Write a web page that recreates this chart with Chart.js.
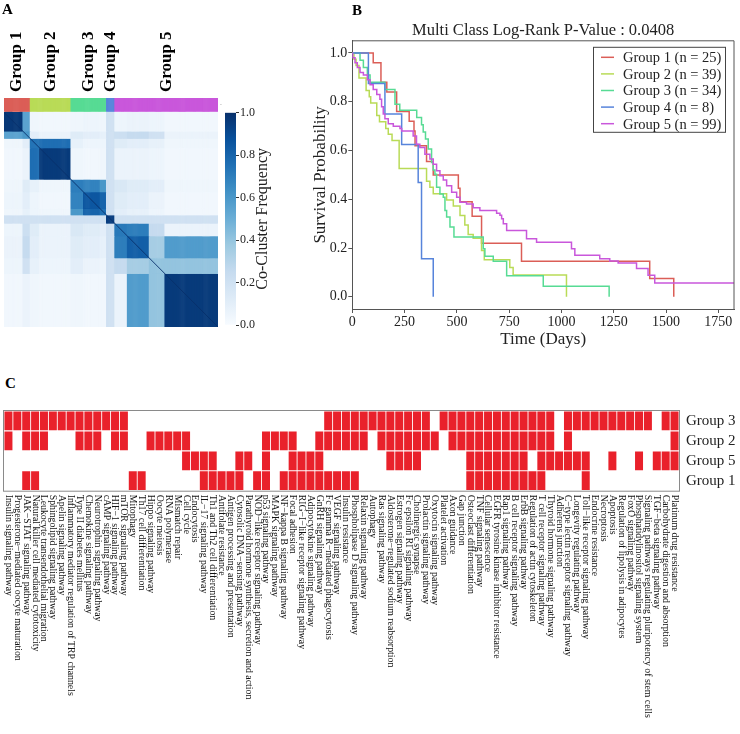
<!DOCTYPE html>
<html><head><meta charset="utf-8">
<script src="https://cdn.jsdelivr.net/npm/chart.js@4.4.1/dist/chart.umd.min.js"></script>
<style>
html,body{margin:0;padding:0;background:#fff;width:740px;height:734px;overflow:hidden;}
.wrap{position:absolute;}
.wrap canvas{display:block;}
.lbl{position:absolute;font-family:"Liberation Serif","Times New Roman",serif;font-weight:bold;font-size:15px;color:#000;line-height:15px;}
</style></head><body>
<div class="wrap" style="left:0;top:0;"><canvas id="cA" width="222" height="335"></canvas></div>
<div class="wrap" style="left:222px;top:100px;"><canvas id="cBar" width="70" height="235"></canvas></div>
<div class="wrap" style="left:300px;top:14px;"><canvas id="cB" width="440" height="345"></canvas></div>
<div class="wrap" style="left:0;top:395px;"><canvas id="cC" width="740" height="339"></canvas></div>
<div class="lbl" style="left:2px;top:2px">A</div>
<div class="lbl" style="left:352px;top:3px">B</div>
<div class="lbl" style="left:5px;top:376px">C</div>
<script>
// ---------------- DATA ----------------
const groupNames = ['Group 1','Group 2','Group 3','Group 4','Group 5'];
const groupSizes = [25, 39, 34, 8, 99];
const groupColors = ['#db5e57','#b9db57','#57db94','#5784db','#c957db'];

// Panel A: co-clustering matrix, read block-wise (sub-cluster segments in sample order)
const segSizes = [18, 7, 9, 30, 12, 16, 6, 8, 12, 21, 15, 51];
const coCluster = [
  [0.97,0.55,0.04,0.03,0.04,0.05,0.04,0.20,0.05,0.06,0.05,0.03],
  [0.55,0.60,0.10,0.06,0.12,0.10,0.08,0.20,0.22,0.25,0.20,0.06],
  [0.04,0.10,0.74,0.76,0.08,0.05,0.05,0.20,0.12,0.10,0.08,0.04],
  [0.03,0.06,0.76,0.96,0.04,0.03,0.04,0.20,0.06,0.06,0.05,0.03],
  [0.04,0.12,0.08,0.04,0.70,0.68,0.60,0.20,0.15,0.12,0.10,0.04],
  [0.05,0.10,0.05,0.03,0.68,0.85,0.80,0.20,0.12,0.10,0.06,0.03],
  [0.04,0.08,0.05,0.04,0.60,0.80,0.75,0.20,0.10,0.08,0.05,0.03],
  [0.20,0.20,0.20,0.20,0.20,0.20,0.20,0.95,0.20,0.20,0.20,0.20],
  [0.05,0.22,0.12,0.06,0.15,0.12,0.10,0.20,0.72,0.70,0.25,0.06],
  [0.06,0.25,0.10,0.06,0.12,0.10,0.08,0.20,0.70,0.82,0.35,0.58],
  [0.05,0.20,0.08,0.05,0.10,0.06,0.05,0.20,0.25,0.35,0.40,0.40],
  [0.03,0.06,0.04,0.03,0.04,0.03,0.03,0.20,0.06,0.58,0.40,0.96]
];
const cbTicks = [0, 0.2, 0.4, 0.6, 0.8, 1.0];

// Panel B: Kaplan-Meier curves (days, survival)
const g1T = [0,100,137,165,212,272,295,300,355,387,507,515,573,618,809,1422,1537];
const g1S = [1,0.96,0.88,0.84,0.76,0.72,0.68,0.62,0.555,0.50,0.445,0.39,0.33,0.22,0.146,0.075,0];
const g2T = [0,8,18,32,66,81,88,117,130,160,172,190,224,355,371,387,451,483,515,538,554,578,618,631,753,769,1024];
const g2S = [1,0.974,0.949,0.897,0.846,0.821,0.795,0.744,0.718,0.69,0.667,0.641,0.526,0.474,0.449,0.423,0.397,0.372,0.333,0.295,0.256,0.24,0.19,0.152,0.12,0.089,0];
const g3T = [0,37,53,72,85,156,204,227,308,331,339,350,363,379,387,395,403,419,435,443,451,467,486,626,634,674,738,913,1228];
const g3S = [1,0.97,0.94,0.91,0.88,0.85,0.79,0.765,0.735,0.706,0.676,0.647,0.606,0.551,0.52,0.503,0.449,0.422,0.408,0.354,0.327,0.286,0.245,0.197,0.166,0.146,0.086,0.043,0];
const g4T = [0,77,156,236,315,331,387];
const g4S = [1,0.875,0.75,0.625,0.469,0.156,0];
const g5T = [0,2,13,24,37,53,72,85,100,117,132,140,148,156,172,196,228,236,291,307,323,347,371,387,403,419,435,451,475,499,515,546,578,610,690,706,714,722,738,833,881,1048,1064,1183,1231,1271,1359,1414,1446,1825];
const g5S = [1,0.98,0.96,0.94,0.92,0.91,0.89,0.87,0.85,0.83,0.81,0.78,0.75,0.73,0.71,0.70,0.69,0.68,0.66,0.626,0.612,0.585,0.565,0.544,0.517,0.497,0.479,0.456,0.429,0.408,0.388,0.381,0.365,0.354,0.343,0.334,0.320,0.300,0.272,0.238,0.224,0.197,0.170,0.156,0.147,0.139,0.116,0.088,0.057,0.057];
const kmXTicks = [0,250,500,750,1000,1250,1500,1750];
const kmYTicks = [0,0.2,0.4,0.6,0.8,1.0];
const kmTitle = 'Multi Class Log-Rank P-Value : 0.0408';

// Panel C: pathway enrichment (1 = enriched)
const pathways = [
 'Insulin signaling pathway','Progesterone\u2212mediated oocyte maturation','JAK\u2212STAT signaling pathway',
 'Natural killer cell mediated cytotoxicity','Leukocyte transendothelial migration','Sphingolipid signaling pathway',
 'Apelin signaling pathway','Inflammatory mediator regulation of TRP channels','Type II diabetes mellitus',
 'Chemokine signaling pathway','Neurotrophin signaling pathway','cAMP signaling pathway','HIF\u22121 signaling pathway',
 'mTOR signaling pathway','Mitophagy','Th17 cell differentiation','Hippo signaling pathway','Oocyte meiosis',
 'RNA polymerase','Mismatch repair','Cell cycle','Endocytosis','IL\u221217 signaling pathway',
 'Th1 and Th2 cell differentiation','Antifolate resistance','Antigen processing and presentation',
 'Cytosolic DNA\u2212sensing pathway','Parathyroid hormone synthesis, secretion and action',
 'NOD\u2212like receptor signaling pathway','p53 signaling pathway','MAPK signaling pathway',
 'NF\u2212kappa B signaling pathway','Focal adhesion','RIG\u2212I\u2212like receptor signaling pathway',
 'Adipocytokine signaling pathway','GnRH signaling pathway','Fc gamma R\u2212mediated phagocytosis',
 'VEGF signaling pathway','Insulin resistance','Phospholipase D signaling pathway','Relaxin signaling pathway',
 'Autophagy','Ras signaling pathway','Aldosterone\u2212regulated sodium reabsorption','Estrogen signaling pathway',
 'Fc epsilon RI signaling pathway','Cholinergic synapse','Prolactin signaling pathway','Oxytocin signaling pathway',
 'Platelet activation','Axon guidance','Gap junction','Osteoclast differentiation','TNF signaling pathway',
 'Cellular senescence','EGFR tyrosine kinase inhibitor resistance','Rap1 signaling pathway',
 'B cell receptor signaling pathway','ErbB signaling pathway','Regulation of actin cytoskeleton',
 'T cell receptor signaling pathway','Thyroid hormone signaling pathway','Adherens junction',
 'C\u2212type lectin receptor signaling pathway','Longevity regulating pathway','Toll\u2212like receptor signaling pathway',
 'Endocrine resistance','Necroptosis','Apoptosis','Regulation of lipolysis in adipocytes','FoxO signaling pathway',
 'Phosphatidylinositol signaling system','Signaling pathways regulating pluripotency of stem cells',
 'TGF\u2212beta signaling pathway','Carbohydrate digestion and absorption','Platinum drug resistance'
];
const rowNames = ['Group 3','Group 2','Group 5','Group 1'];
const enrichG3 = [1,1,1,1,1,1,1,1,1,1, 1,1,1,1,0,0,0,0,0,0, 0,0,0,0,0,0,0,0,0,0, 0,0,0,0,0,0,1,1,1,1, 1,1,1,1,1,1,1,1,0,1, 1,1,1,1,1,1,1,1,1,1, 1,1,0,1,1,1,1,1,1,1, 1,1,1,0,1,1];
const enrichG2 = [1,0,1,1,1,0,0,0,1,1, 1,0,1,1,0,0,1,1,1,1, 1,0,0,0,0,0,0,0,0,1, 1,1,1,0,0,1,1,1,1,1, 1,0,1,1,1,1,1,1,1,0, 1,1,1,1,1,1,1,1,1,1, 1,1,0,1,0,0,0,0,0,0, 0,0,0,0,0,1];
const enrichG5 = [0,0,0,0,0,0,0,0,0,0, 0,0,0,0,0,0,0,0,0,0, 1,1,1,1,0,0,1,1,0,1, 0,0,1,1,1,1,0,0,0,0, 0,0,0,1,1,1,1,0,0,0, 0,0,1,1,1,1,1,1,1,0, 1,1,1,1,1,1,0,0,1,0, 0,1,0,1,1,1];
const enrichG1 = [0,0,1,1,0,0,0,0,0,0, 0,0,0,0,1,1,0,0,0,0, 0,0,1,1,1,1,1,0,1,1, 0,1,1,1,1,1,1,1,1,1, 0,0,0,0,0,0,0,0,0,0, 0,0,1,1,1,1,1,1,1,1, 1,0,0,0,0,1,0,0,0,0, 0,0,0,0,0,0];

// ---------------- STYLE / HELPERS ----------------
const SERIF = "'Liberation Serif','Times New Roman',serif";
Chart.defaults.font.family = SERIF;
Chart.defaults.color = '#222';
const bluesStops = [[0,'#f7fbff'],[0.125,'#deebf7'],[0.25,'#c6dbef'],[0.375,'#9ecae1'],[0.5,'#6baed6'],[0.625,'#4292c6'],[0.75,'#2171b5'],[0.875,'#08519c'],[1,'#08306b']];
function hex2rgb(h){return [parseInt(h.substr(1,2),16),parseInt(h.substr(3,2),16),parseInt(h.substr(5,2),16)];}
function blues(v){
  v = Math.max(0, Math.min(1, v));
  for (let i=1;i<bluesStops.length;i++){
    if (v <= bluesStops[i][0]){
      const [a,ca]=bluesStops[i-1],[b,cb]=bluesStops[i];
      const t=(v-a)/(b-a), A=hex2rgb(ca), B=hex2rgb(cb);
      return 'rgb('+A.map((x,j)=>Math.round(x+(B[j]-x)*t)).join(',')+')';
    }
  }
  return bluesStops[bluesStops.length-1][1];
}

// ---------------- PANEL A ----------------
const segStart=[]; let acc=0; segSizes.forEach(s=>{segStart.push(acc); acc+=s;});
const N = acc;
const segOf=[]; segSizes.forEach((s,k)=>{for(let i=0;i<s;i++) segOf.push(k);});
const grpOf=[]; groupSizes.forEach((s,k)=>{for(let i=0;i<s;i++) grpOf.push(k);});
const heatSets = segSizes.map((s,r)=>({
  type:'bar',
  data: segOf.map((k,c)=>({x:c+0.5, y:[segStart[r], segStart[r]+s]})),
  backgroundColor: segOf.map(k=>blues(coCluster[r][k])),
  borderWidth:0, barPercentage:1, categoryPercentage:1, grouped:false, order:2
}));
heatSets.push({
  type:'bar',
  data: grpOf.map((g,c)=>({x:c+0.5, y:[-13.6,-0.7]})),
  backgroundColor: grpOf.map(g=>groupColors[g]),
  borderWidth:0, barPercentage:1, categoryPercentage:1, grouped:false, order:2
});
heatSets.push({
  type:'line', data:[{x:0,y:0},{x:N,y:N}], borderColor:'#08306b', borderWidth:0.9, pointRadius:0, order:1
});
const groupLabelPlugin = {
  id:'groupLabels',
  afterDraw(chart){
    const ctx=chart.ctx, xs=chart.scales.x, ca=chart.chartArea;
    ctx.save();
    ctx.fillStyle='#000';
    ctx.font='bold 17px '+SERIF;
    ctx.textAlign='left'; ctx.textBaseline='middle';
    let start=0;
    groupSizes.forEach((s,g)=>{
      const x=xs.getPixelForValue(start+s/2);
      ctx.save(); ctx.translate(x, ca.top-6); ctx.rotate(-Math.PI/2); ctx.fillText(groupNames[g],0,0); ctx.restore();
      start+=s;
    });
    ctx.font='5px "DejaVu Sans",sans-serif'; ctx.fillStyle='#333';
    ctx.fillText('- Cluster', ca.right+2, ca.top+7);
    ctx.restore();
  }
};
new Chart(document.getElementById('cA'), {
  type:'bar',
  data:{datasets:heatSets},
  options:{
    responsive:false, animation:false, events:[],
    layout:{padding:{left:4,top:98,right:4,bottom:8}},
    plugins:{legend:{display:false},tooltip:{enabled:false}},
    scales:{
      x:{type:'linear',min:0,max:N,offset:false,display:false},
      y:{type:'linear',min:-13.6,max:N,reverse:true,display:false}
    }
  },
  plugins:[groupLabelPlugin]
});

// colorbar
const cbLabelPlugin = {
  id:'cbLabel',
  afterDraw(chart){
    const ctx=chart.ctx, ca=chart.chartArea;
    ctx.save(); ctx.fillStyle='#222'; ctx.font='16px '+SERIF;
    ctx.textAlign='center'; ctx.textBaseline='middle';
    ctx.translate(41,(ca.top+ca.bottom)/2); ctx.rotate(-Math.PI/2);
    ctx.fillText('Co-Cluster Frequency',0,0); ctx.restore();
  }
};
new Chart(document.getElementById('cBar'), {
  type:'bar',
  data:{labels:[''], datasets:[{
    data:[[0,1]], borderWidth:0, barPercentage:1, categoryPercentage:1,
    backgroundColor:(c)=>{
      const ca=c.chart.chartArea; if(!ca) return '#6baed6';
      const g=c.chart.ctx.createLinearGradient(0,ca.bottom,0,ca.top);
      bluesStops.forEach(s=>g.addColorStop(s[0],s[1])); return g;
    }
  }]},
  options:{
    responsive:false, animation:false, events:[],
    layout:{padding:{left:3,top:12.7,bottom:10,right:0}},
    plugins:{legend:{display:false},tooltip:{enabled:false}},
    scales:{
      x:{display:false},
      y:{position:'right',min:0,max:1,
         afterBuildTicks(s){s.ticks=cbTicks.map(v=>({value:v}));},
         ticks:{callback:v=>Number(v).toFixed(1),font:{size:12},color:'#222',padding:1},
         grid:{drawOnChartArea:false,drawTicks:true,tickLength:3,color:'#333'},
         border:{display:false},
         afterFit(s){s.width=56;}}
    }
  },
  plugins:[cbLabelPlugin]
});

// ---------------- PANEL B ----------------
const kmT=[g1T,g2T,g3T,g4T,g5T], kmS=[g1S,g2S,g3S,g4S,g5S];
const kmSets = kmT.map((T,i)=>({
  label: groupNames[i]+' (n = '+groupSizes[i]+')',
  data: T.map((t,j)=>({x:t,y:kmS[i][j]})),
  borderColor: groupColors[i], backgroundColor: groupColors[i],
  borderWidth:1.5, pointRadius:0, stepped:'before', fill:false, order:4-i
}));
const kmFrame = {
  id:'kmFrame',
  afterDraw(chart){
    const ctx=chart.ctx, ca=chart.chartArea;
    ctx.save(); ctx.strokeStyle='#555'; ctx.lineWidth=1;
    ctx.beginPath(); ctx.moveTo(ca.left,ca.top); ctx.lineTo(ca.right,ca.top); ctx.lineTo(ca.right,ca.bottom); ctx.stroke();
    // legend inside
    const w=132, h=85, right=ca.right-9, top=ca.top+6, left=right-w;
    ctx.fillStyle='#fff'; ctx.fillRect(left,top,w,h);
    ctx.strokeStyle='#444'; ctx.strokeRect(left+0.5,top+0.5,w,h);
    ctx.font='14.5px '+SERIF; ctx.textBaseline='middle'; ctx.textAlign='left';
    chart.data.datasets.forEach((d,i)=>{
      const y=top+10.5+i*16.6;
      ctx.strokeStyle=d.borderColor; ctx.lineWidth=1.5;
      ctx.beginPath(); ctx.moveTo(left+8,y); ctx.lineTo(left+21,y); ctx.stroke();
      ctx.fillStyle='#222'; ctx.fillText(d.label,left+30,y+1);
    });
    ctx.restore();
  }
};
new Chart(document.getElementById('cB'), {
  type:'line',
  data:{datasets:kmSets},
  options:{
    responsive:false, animation:false, events:[],
    layout:{padding:{left:0,right:6,top:0,bottom:0}},
    plugins:{
      legend:{display:false}, tooltip:{enabled:false},
      title:{display:true,text:kmTitle,fullSize:false,color:'#222',font:{size:16.5,weight:'normal',lineHeight:1.2},padding:{top:7,bottom:0}}
    },
    scales:{
      x:{type:'linear',min:0,max:1825,
         afterBuildTicks(s){s.ticks=kmXTicks.map(v=>({value:v}));},
         ticks:{callback:v=>String(v),font:{size:14},color:'#222',padding:1,maxRotation:0},
         grid:{drawOnChartArea:false,drawTicks:true,tickLength:4,color:'#555'},
         border:{color:'#555'},
         title:{display:true,text:'Time (Days)',font:{size:17},color:'#222',padding:{top:0,bottom:9}},
         afterFit(s){s.height=50;}},
      y:{type:'linear',min:-0.05,max:1.05,
         afterBuildTicks(s){s.ticks=kmYTicks.map(v=>({value:v}));},
         ticks:{callback:v=>Number(v).toFixed(1),font:{size:14},color:'#222',padding:1},
         grid:{drawOnChartArea:false,drawTicks:true,tickLength:4,color:'#555'},
         border:{color:'#555'},
         title:{display:true,text:'Survival Probability',font:{size:17},color:'#222',padding:{top:10,bottom:0}},
         afterFit(s){s.width=52.3;}}
    }
  },
  plugins:[kmFrame]
});

// ---------------- PANEL C ----------------
const enrichRows=[enrichG3,enrichG2,enrichG5,enrichG1];
const enrichSets = enrichRows.map((row,r)=>({
  label: rowNames[r],
  data: row.map(v=> v ? [r+0.03, r+0.97] : null),
  backgroundColor:'#e9212b', borderWidth:0, barPercentage:0.9, categoryPercentage:1, grouped:false
}));
const cPlugin = {
  id:'cLabels',
  afterDraw(chart){
    const ctx=chart.ctx, ca=chart.chartArea, xs=chart.scales.x;
    ctx.save();
    ctx.strokeStyle='#8a8a8a'; ctx.lineWidth=1;
    ctx.strokeRect(ca.left-0.5,ca.top-0.5,ca.right-ca.left+1,ca.bottom-ca.top+1);
    ctx.fillStyle='#111'; ctx.font='9.8px '+SERIF; ctx.textAlign='left'; ctx.textBaseline='middle';
    pathways.forEach((p,i)=>{
      const x=xs.getPixelForValue(i);
      ctx.save(); ctx.translate(x, ca.bottom+4); ctx.rotate(Math.PI/2); ctx.fillText(p,0,0); ctx.restore();
    });
    ctx.restore();
  }
};
new Chart(document.getElementById('cC'), {
  type:'bar',
  data:{labels:pathways, datasets:enrichSets},
  options:{
    responsive:false, animation:false, events:[],
    layout:{padding:{left:4,top:12.3,right:0,bottom:243.3}},
    plugins:{legend:{display:false},tooltip:{enabled:false}},
    scales:{
      x:{display:false},
      y:{type:'linear',min:0,max:4,reverse:true,position:'right',
         afterBuildTicks(s){s.ticks=[0.5,1.5,2.5,3.5].map(v=>({value:v}));},
         ticks:{callback:(v,i)=>rowNames[i],font:{size:15},color:'#222',padding:7},
         grid:{display:false,drawTicks:false},
         border:{display:false},
         afterFit(s){s.width=61;}}
    }
  },
  plugins:[cPlugin]
});
</script>
</body></html>
